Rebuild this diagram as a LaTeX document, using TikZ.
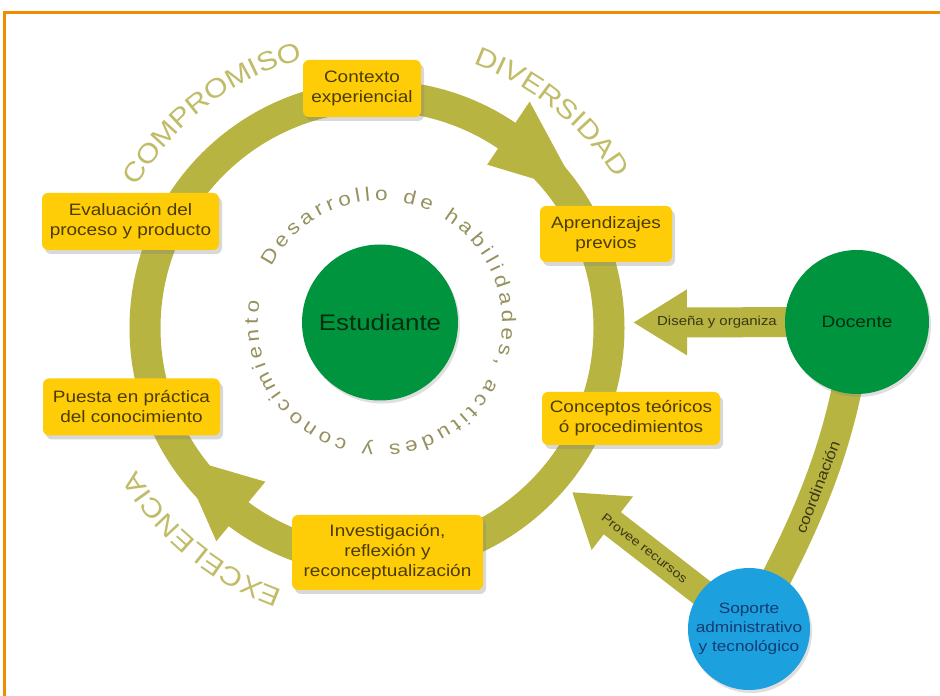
\documentclass[tikz,border=0pt]{standalone}
\usepackage{fontspec}
\setmainfont{Liberation Sans}[FakeStretch=1.15]
\usetikzlibrary{arrows.meta,decorations.text,shadows,calc}
\pgfdeclarelayer{bg}
\pgfsetlayers{bg,main}
\definecolor{ringcol}{RGB}{184,180,66}
\definecolor{framecol}{RGB}{240,140,0}
\definecolor{boxfill}{RGB}{255,205,8}
\definecolor{boxtext}{RGB}{75,60,0}
\definecolor{grn}{RGB}{0,148,62}
\definecolor{grntext}{RGB}{5,45,15}
\definecolor{blu}{RGB}{28,160,222}
\definecolor{blutext}{RGB}{20,60,115}
\definecolor{arctext}{RGB}{192,188,104}
\definecolor{innertext}{RGB}{150,145,95}
\definecolor{arrtext}{RGB}{60,55,20}
\newcommand\arcfont{\fontsize{26.5}{30}\selectfont}
\newcommand\innerfont{\fontsize{19.5}{22}\selectfont}
\tikzset{
  procbox/.style={fill=boxfill, rounded corners=6pt, text=boxtext, align=center,
    font=\fontsize{16.5}{20}\selectfont, inner sep=0pt,
    drop shadow={shadow xshift=3pt, shadow yshift=-4pt, opacity=0.3, fill=black!50}},
  actor/.style={circle, inner sep=0pt, align=center,
    drop shadow={shadow xshift=2pt, shadow yshift=-3pt, opacity=0.25, fill=black!50}},
  band/.style={draw=ringcol, line width=30pt},
  arclabel/.style={decorate, decoration={text along path, text align=center, text color=arctext}},
}
\begin{document}
\begin{tikzpicture}[x=1pt,y=1pt]
\useasboundingbox (0,0) rectangle (940,696);

\coordinate (C) at (377,368);

% boxes
\node[procbox, minimum width=118pt, minimum height=57pt] (ctx) at (362,607.5) {Contexto\\experiencial};
\node[procbox, minimum width=132pt, minimum height=56pt] (apr) at (606,462) {Aprendizajes\\previos};
\node[procbox, minimum width=178pt, minimum height=53pt] (con) at (631,277.5) {Conceptos teóricos\\ó procedimientos};
\node[procbox, minimum width=191pt, minimum height=75pt] (inv) at (387.5,143.5) {Investigación,\\reflexión y\\reconceptualización};
\node[procbox, minimum width=177pt, minimum height=57pt] (pue) at (131.5,289) {Puesta en práctica\\del conocimiento};
\node[procbox, minimum width=177pt, minimum height=57pt] (eva) at (130.5,474.5) {Evaluación del\\proceso y producto};

% actors
\node[actor, fill=grn, minimum size=156pt, text=grntext, font=\fontsize{22.5}{26}\selectfont] (est) at (380,373.5) {Estudiante};
\node[actor, fill=grn, minimum size=144pt, text=grntext, font=\fontsize{16.5}{20}\selectfont] (doc) at (857,374) {Docente};
\node[actor, fill=blu, minimum size=122pt, text=blutext, font=\fontsize{15}{19}\selectfont] (sop) at (749,67) {Soporte\\administrativo\\y tecnológico};

\coordinate (dtip) at (633,373.5);
\coordinate (ptip) at (572,204);

\begin{pgfonlayer}{bg}
  \fill[white] (0,0) rectangle (940,696);
  \draw[framecol, line width=3pt] (4,-5) -- (4,683) -- (950,683);
  % ring
  \draw[draw=ringcol, line width=31pt] (C) circle[radius=232];
  \fill[ringcol] ($(C)+(56:197)$) -- ($(C)+(56:273)$) -- ($(C)+(34:243)$) -- cycle;
  \fill[ringcol] ($(C)+(234:190)$) -- ($(C)+(233:267)$) -- ($(C)+(213:236)$) -- cycle;
  % connectors
  \draw[band, -{Triangle[width=62pt,length=54pt]}] (doc.center) -- (dtip)
     node[pos=0.625, text=arrtext, font=\fontsize{13}{15}\selectfont] (dlab) {Diseña y organiza};
  \draw[band, line width=28pt, -{Triangle[width=64pt,length=51pt]}] (sop.center) -- (ptip)
     node[pos=0.59, sloped, text=arrtext, font=\fontsize{12.5}{14}\selectfont] (plab) {Provee recursos};
  \draw[band] (doc.center) .. controls (845,250) and (800,160) .. (sop.center)
     node[pos=0.5, sloped, text=arrtext, font=\fontsize{15}{17}\selectfont] (clab) {coordinación};
\end{pgfonlayer}

% arc words
\path[arclabel, decoration={text={|\arcfont|COMPROMISO}}] ($(C)+(165:279)$) arc[start angle=165, end angle=90, radius=279];
\path[arclabel, decoration={text={|\arcfont|DIVERSIDAD}}] ($(C)+(90:281)$) arc[start angle=90, end angle=12, radius=281];
\path[arclabel, decoration={text={|\arcfont|EXCELENCIA}}] ($(C)+(268:279)$) arc[start angle=268, end angle=193, radius=279];

% inner text
\path[decorate, decoration={text along path, text align={fit to path}, text color=innertext,
   text={|\innerfont|Desarrollo de habilidades, actitudes y conocimiento}}]
   ($(est.center)+(153:122)$) arc[start angle=153, end angle=-190, radius=122];
\end{tikzpicture}
\end{document}
